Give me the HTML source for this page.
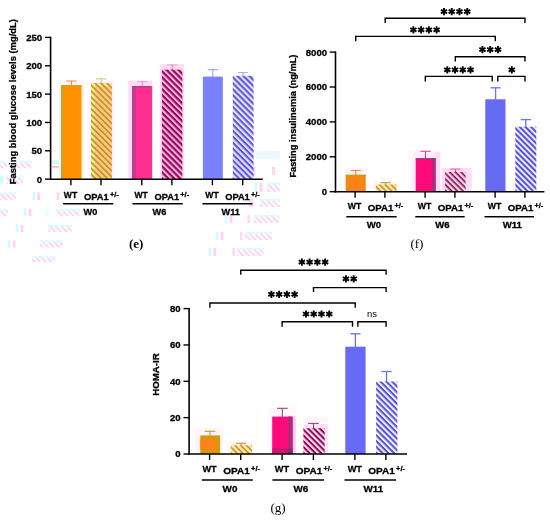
<!DOCTYPE html>
<html><head><meta charset="utf-8"><title>Figure</title>
<style>html,body{margin:0;padding:0;background:#fff;}svg{display:block;}</style></head>
<body>
<svg width="550" height="521" viewBox="0 0 550 521">
<rect width="550" height="521" fill="#fff"/>
<g opacity="0.999">
<defs>
<pattern id="h1" width="4.0" height="4.0" patternUnits="userSpaceOnUse" patternTransform="translate(0.00,0.00) rotate(45) translate(0,0.00)"><rect x="0" y="0.00" width="4.0" height="1.72" fill="#FFC6EC"/><rect x="0" y="1.70" width="4.0" height="2.32" fill="#FFFFFF"/></pattern>
<pattern id="h2" width="4.2" height="4.2" patternUnits="userSpaceOnUse" patternTransform="translate(91.00,83.10) rotate(45) translate(0,0.45)"><rect x="0" y="0.00" width="4.2" height="1.96" fill="#CC8E1C"/><rect x="0" y="1.94" width="4.2" height="2.28" fill="#FFC684"/></pattern>
<pattern id="h3" width="4.2" height="4.2" patternUnits="userSpaceOnUse" patternTransform="translate(91.00,83.10) rotate(45) translate(0,0.45)"><rect x="0" y="0.00" width="4.2" height="1.96" fill="#B49C28"/><rect x="0" y="1.94" width="4.2" height="2.28" fill="#FFEA90"/></pattern>
<pattern id="h4" width="4.2" height="4.2" patternUnits="userSpaceOnUse" patternTransform="translate(161.90,69.60) rotate(45) translate(0,0.00)"><rect x="0" y="0.00" width="4.2" height="1.70" fill="#7E1450"/><rect x="0" y="1.68" width="4.2" height="1.18" fill="#FF2C94"/><rect x="0" y="2.84" width="4.2" height="1.39" fill="#FFC0E8"/></pattern>
<pattern id="h5" width="4.2" height="4.2" patternUnits="userSpaceOnUse" patternTransform="translate(232.80,75.80) rotate(45) translate(0,0.00)"><rect x="0" y="0.00" width="4.2" height="2.28" fill="#5C56DC"/><rect x="0" y="2.26" width="4.2" height="1.96" fill="#E8E2FF"/></pattern>
<pattern id="h6" width="4.0" height="4.0" patternUnits="userSpaceOnUse" patternTransform="translate(375.80,184.50) rotate(45) translate(0,0.45)"><rect x="0" y="0.00" width="4.0" height="1.92" fill="#D4921E"/><rect x="0" y="1.90" width="4.0" height="2.12" fill="#FFEEBC"/></pattern>
<pattern id="h7" width="4.0" height="4.0" patternUnits="userSpaceOnUse" patternTransform="translate(375.80,184.50) rotate(45) translate(0,0.45)"><rect x="0" y="0.00" width="4.0" height="1.87" fill="#B49C28"/><rect x="0" y="1.85" width="4.0" height="2.17" fill="#FFEA90"/></pattern>
<pattern id="h8" width="4.0" height="4.0" patternUnits="userSpaceOnUse" patternTransform="translate(445.10,171.90) rotate(45) translate(0,0.00)"><rect x="0" y="0.00" width="4.0" height="1.72" fill="#7A1248"/><rect x="0" y="1.70" width="4.0" height="0.67" fill="#FF4AA2"/><rect x="0" y="2.35" width="4.0" height="1.67" fill="#FFDDF4"/></pattern>
<pattern id="h9" width="4.0" height="4.0" patternUnits="userSpaceOnUse" patternTransform="translate(515.30,126.70) rotate(45) translate(0,0.00)"><rect x="0" y="0.00" width="4.0" height="2.17" fill="#5552DC"/><rect x="0" y="2.15" width="4.0" height="1.87" fill="#EEE9FF"/></pattern>
<pattern id="h10" width="4.1" height="4.1" patternUnits="userSpaceOnUse" patternTransform="translate(230.80,445.20) rotate(45) translate(0,0.45)"><rect x="0" y="0.00" width="4.1" height="1.97" fill="#D4921E"/><rect x="0" y="1.95" width="4.1" height="2.17" fill="#FFEEBC"/></pattern>
<pattern id="h11" width="4.1" height="4.1" patternUnits="userSpaceOnUse" patternTransform="translate(230.80,445.20) rotate(45) translate(0,0.45)"><rect x="0" y="0.00" width="4.1" height="1.92" fill="#B49C28"/><rect x="0" y="1.90" width="4.1" height="2.22" fill="#FFEA90"/></pattern>
<pattern id="h12" width="4.1" height="4.1" patternUnits="userSpaceOnUse" patternTransform="translate(303.40,428.20) rotate(45) translate(0,0.00)"><rect x="0" y="0.00" width="4.1" height="1.76" fill="#7A1248"/><rect x="0" y="1.74" width="4.1" height="0.69" fill="#FF4AA2"/><rect x="0" y="2.41" width="4.1" height="1.71" fill="#FFDDF4"/></pattern>
<pattern id="h13" width="4.1" height="4.1" patternUnits="userSpaceOnUse" patternTransform="translate(376.10,381.50) rotate(45) translate(0,0.00)"><rect x="0" y="0.00" width="4.1" height="2.22" fill="#5550DC"/><rect x="0" y="2.20" width="4.1" height="1.92" fill="#F3F0FF"/></pattern>
</defs>
<rect x="0.00" y="161.00" width="7.00" height="7.40" fill="url(#h1)" />
<rect x="0.00" y="161.00" width="7.00" height="2.20" fill="#D8FFFF" opacity="0.8"/>
<rect x="14.50" y="161.00" width="16.80" height="7.40" fill="url(#h1)" />
<rect x="14.50" y="161.00" width="16.80" height="2.20" fill="#D8FFFF" opacity="0.8"/>
<rect x="51.60" y="160.40" width="9.40" height="3.60" fill="#D4FFF6" />
<line x1="52.40" y1="166.90" x2="61.00" y2="166.90" stroke="#FF7FA0" stroke-width="1.0"/>
<rect x="0.00" y="175.60" width="3.00" height="8.00" fill="#C8FFFF" />
<rect x="6.50" y="175.60" width="16.80" height="8.00" fill="url(#h1)" />
<rect x="6.50" y="175.60" width="16.80" height="2.20" fill="#D8FFFF" opacity="0.8"/>
<rect x="0.00" y="192.40" width="16.00" height="7.60" fill="url(#h1)" />
<rect x="0.00" y="192.40" width="16.00" height="2.20" fill="#D8FFFF" opacity="0.8"/>
<rect x="32.50" y="192.40" width="2.60" height="7.60" fill="#C8FFFF" />
<rect x="35.10" y="192.40" width="2.00" height="7.60" fill="#FFFFFF" />
<rect x="37.10" y="192.40" width="2.80" height="7.60" fill="#FFD2F2" />
<rect x="56.50" y="192.40" width="3.00" height="7.60" fill="#FFD8F4" />
<rect x="0.00" y="209.00" width="8.00" height="7.00" fill="url(#h1)" />
<rect x="0.00" y="209.00" width="8.00" height="2.20" fill="#D8FFFF" opacity="0.8"/>
<rect x="24.00" y="209.00" width="2.60" height="7.00" fill="#C8FFFF" />
<rect x="26.60" y="209.00" width="2.00" height="7.00" fill="#FFFFFF" />
<rect x="28.60" y="209.00" width="2.80" height="7.00" fill="#FFD2F2" />
<rect x="45.00" y="209.00" width="4.50" height="7.00" fill="#E4FFFF" />
<rect x="56.50" y="209.00" width="23.00" height="7.00" fill="url(#h1)" />
<rect x="56.50" y="209.00" width="23.00" height="2.20" fill="#D8FFFF" opacity="0.8"/>
<rect x="16.00" y="225.00" width="2.60" height="7.00" fill="#C8FFFF" />
<rect x="18.60" y="225.00" width="2.00" height="7.00" fill="#FFFFFF" />
<rect x="20.60" y="225.00" width="2.80" height="7.00" fill="#FFD2F2" />
<rect x="48.00" y="225.00" width="23.50" height="7.00" fill="url(#h1)" />
<rect x="48.00" y="225.00" width="23.50" height="2.20" fill="#D8FFFF" opacity="0.8"/>
<rect x="8.00" y="240.50" width="2.60" height="7.00" fill="#C8FFFF" />
<rect x="10.60" y="240.50" width="2.00" height="7.00" fill="#FFFFFF" />
<rect x="12.60" y="240.50" width="2.80" height="7.00" fill="#FFD2F2" />
<rect x="40.00" y="240.50" width="23.00" height="7.00" fill="url(#h1)" />
<rect x="40.00" y="240.50" width="23.00" height="2.20" fill="#D8FFFF" opacity="0.8"/>
<rect x="32.00" y="256.00" width="23.00" height="6.00" fill="url(#h1)" />
<rect x="32.00" y="256.00" width="23.00" height="2.20" fill="#D8FFFF" opacity="0.8"/>
<rect x="256.00" y="151.00" width="24.00" height="8.00" fill="#ECF7FF" />
<rect x="248.00" y="167.00" width="2.60" height="8.00" fill="#C8FFFF" />
<rect x="250.60" y="167.00" width="2.00" height="8.00" fill="#FFFFFF" />
<rect x="252.60" y="167.00" width="2.80" height="8.00" fill="#FFD2F2" />
<rect x="272.00" y="167.00" width="3.00" height="8.00" fill="#FFD8F4" />
<rect x="255.00" y="183.00" width="2.60" height="9.00" fill="#C8FFFF" />
<rect x="257.60" y="183.00" width="2.00" height="9.00" fill="#FFFFFF" />
<rect x="259.60" y="183.00" width="2.80" height="9.00" fill="#FFD2F2" />
<rect x="267.00" y="183.00" width="13.00" height="9.00" fill="url(#h1)" />
<rect x="267.00" y="183.00" width="13.00" height="2.20" fill="#D8FFFF" opacity="0.8"/>
<rect x="248.60" y="199.00" width="5.00" height="8.00" fill="#FFD8F4" />
<rect x="260.00" y="199.00" width="20.00" height="8.00" fill="url(#h1)" />
<rect x="260.00" y="199.00" width="20.00" height="2.20" fill="#D8FFFF" opacity="0.8"/>
<rect x="225.00" y="215.00" width="2.60" height="8.00" fill="#C8FFFF" />
<rect x="227.60" y="215.00" width="2.00" height="8.00" fill="#FFFFFF" />
<rect x="229.60" y="215.00" width="2.80" height="8.00" fill="#FFD2F2" />
<rect x="247.50" y="215.00" width="2.50" height="8.00" fill="#FFD8F4" />
<rect x="253.60" y="215.00" width="24.90" height="8.00" fill="url(#h1)" />
<rect x="253.60" y="215.00" width="24.90" height="2.20" fill="#D8FFFF" opacity="0.8"/>
<rect x="216.00" y="232.00" width="2.60" height="8.00" fill="#C8FFFF" />
<rect x="218.60" y="232.00" width="2.00" height="8.00" fill="#FFFFFF" />
<rect x="220.60" y="232.00" width="2.80" height="8.00" fill="#FFD2F2" />
<rect x="240.00" y="232.00" width="2.50" height="8.00" fill="#FFD8F4" />
<rect x="245.00" y="232.00" width="27.00" height="8.00" fill="url(#h1)" />
<rect x="245.00" y="232.00" width="27.00" height="2.20" fill="#D8FFFF" opacity="0.8"/>
<rect x="208.70" y="248.00" width="2.60" height="8.00" fill="#C8FFFF" />
<rect x="211.30" y="248.00" width="2.00" height="8.00" fill="#FFFFFF" />
<rect x="213.30" y="248.00" width="2.80" height="8.00" fill="#FFD2F2" />
<rect x="232.40" y="248.00" width="2.60" height="8.00" fill="#FFD8F4" />
<rect x="237.40" y="248.00" width="26.20" height="8.00" fill="url(#h1)" />
<rect x="237.40" y="248.00" width="26.20" height="2.20" fill="#D8FFFF" opacity="0.8"/>
<line x1="50.60" y1="36.70" x2="50.60" y2="179.90" stroke="#000" stroke-width="1.6"/>
<line x1="45.00" y1="179.15" x2="50.60" y2="179.15" stroke="#000" stroke-width="1.4"/>
<text x="42.20" y="182.60" font-family="Liberation Sans, sans-serif" font-weight="bold" stroke="#000" stroke-width="0.3" font-size="9.6" text-anchor="end" >0</text>
<line x1="45.00" y1="150.80" x2="50.60" y2="150.80" stroke="#000" stroke-width="1.4"/>
<text x="42.20" y="154.25" font-family="Liberation Sans, sans-serif" font-weight="bold" stroke="#000" stroke-width="0.3" font-size="9.6" text-anchor="end" >50</text>
<line x1="45.00" y1="122.45" x2="50.60" y2="122.45" stroke="#000" stroke-width="1.4"/>
<text x="42.20" y="125.90" font-family="Liberation Sans, sans-serif" font-weight="bold" stroke="#000" stroke-width="0.3" font-size="9.6" text-anchor="end" >100</text>
<line x1="45.00" y1="94.10" x2="50.60" y2="94.10" stroke="#000" stroke-width="1.4"/>
<text x="42.20" y="97.55" font-family="Liberation Sans, sans-serif" font-weight="bold" stroke="#000" stroke-width="0.3" font-size="9.6" text-anchor="end" >150</text>
<line x1="45.00" y1="65.75" x2="50.60" y2="65.75" stroke="#000" stroke-width="1.4"/>
<text x="42.20" y="69.20" font-family="Liberation Sans, sans-serif" font-weight="bold" stroke="#000" stroke-width="0.3" font-size="9.6" text-anchor="end" >200</text>
<line x1="45.00" y1="37.40" x2="50.60" y2="37.40" stroke="#000" stroke-width="1.4"/>
<text x="42.20" y="40.85" font-family="Liberation Sans, sans-serif" font-weight="bold" stroke="#000" stroke-width="0.3" font-size="9.6" text-anchor="end" >250</text>
<text transform="translate(16.2,184.2) rotate(-90)" font-family="Liberation Sans, sans-serif" font-weight="bold" stroke="#000" stroke-width="0.3" font-size="9.4" textLength="165.00" lengthAdjust="spacingAndGlyphs">Fasting blood glucose levels (mg/dL)</text>
<rect x="58.80" y="80.60" width="25.00" height="98.55" fill="#FFF5FA" />
<line x1="71.40" y1="81.00" x2="71.40" y2="85.70" stroke="#FF8A50" stroke-width="1.1"/>
<line x1="66.30" y1="81.00" x2="76.50" y2="81.00" stroke="#FF8A50" stroke-width="1.1"/>
<rect x="61.10" y="85.20" width="20.60" height="93.95" fill="#FF9300" />
<rect x="61.10" y="85.20" width="2.30" height="93.95" fill="#C8A526" />
<rect x="61.10" y="85.20" width="20.60" height="1.10" fill="#C8A526" />
<rect x="81.70" y="85.20" width="1.30" height="93.95" fill="#FFF3B8" />
<rect x="89.20" y="80.00" width="24.80" height="99.15" fill="#FFF5FA" />
<line x1="101.20" y1="78.90" x2="101.20" y2="83.60" stroke="#FFB890" stroke-width="1.1"/>
<line x1="96.10" y1="78.90" x2="106.30" y2="78.90" stroke="#C4CC7C" stroke-width="1.1"/>
<rect x="91.00" y="83.10" width="20.90" height="96.05" fill="url(#h2)" />
<rect x="91.00" y="83.10" width="4.00" height="96.05" fill="url(#h3)" />
<rect x="91.00" y="83.10" width="20.90" height="3.30" fill="url(#h3)" />
<rect x="128.20" y="80.60" width="24.00" height="98.55" fill="#FFDDF4" />
<line x1="142.20" y1="81.60" x2="142.20" y2="86.70" stroke="#EC6C9C" stroke-width="0.9"/>
<line x1="137.10" y1="81.60" x2="147.30" y2="81.60" stroke="#FF94BC" stroke-width="0.9"/>
<rect x="132.00" y="86.20" width="20.20" height="92.95" fill="#FF2F92" />
<rect x="132.00" y="86.20" width="3.60" height="92.95" fill="#C23C90" />
<rect x="132.00" y="86.20" width="20.20" height="1.00" fill="#8A4C7C" />
<rect x="159.80" y="64.20" width="24.20" height="114.95" fill="#FFDDF4" />
<line x1="172.20" y1="64.90" x2="172.20" y2="70.30" stroke="#EC6C9C" stroke-width="0.9"/>
<line x1="167.10" y1="64.90" x2="177.30" y2="64.90" stroke="#FF8CB4" stroke-width="0.9"/>
<rect x="161.90" y="69.60" width="20.50" height="109.55" fill="url(#h4)" />
<line x1="212.90" y1="69.70" x2="212.90" y2="77.10" stroke="#9297FF" stroke-width="1.0"/>
<line x1="207.80" y1="69.70" x2="218.00" y2="69.70" stroke="#9297FF" stroke-width="1.0"/>
<rect x="202.90" y="76.60" width="19.90" height="102.55" fill="#7A81FF" />
<line x1="243.00" y1="72.60" x2="243.00" y2="76.30" stroke="#A4A8FF" stroke-width="1.0"/>
<line x1="238.10" y1="72.60" x2="247.90" y2="72.60" stroke="#A4A8FF" stroke-width="1.0"/>
<rect x="232.80" y="75.80" width="20.80" height="103.35" fill="url(#h5)" />
<line x1="49.80" y1="179.15" x2="262.80" y2="179.15" stroke="#000" stroke-width="1.5"/>
<line x1="70.90" y1="179.15" x2="70.90" y2="185.15" stroke="#000" stroke-width="1.4"/>
<line x1="101.00" y1="179.15" x2="101.00" y2="185.15" stroke="#000" stroke-width="1.4"/>
<line x1="141.80" y1="179.15" x2="141.80" y2="185.15" stroke="#000" stroke-width="1.4"/>
<line x1="171.90" y1="179.15" x2="171.90" y2="185.15" stroke="#000" stroke-width="1.4"/>
<line x1="212.40" y1="179.15" x2="212.40" y2="185.15" stroke="#000" stroke-width="1.4"/>
<line x1="242.70" y1="179.15" x2="242.70" y2="185.15" stroke="#000" stroke-width="1.4"/>
<text x="70.55" y="197.55" font-family="Liberation Sans, sans-serif" font-weight="bold" stroke="#000" stroke-width="0.3" font-size="9.2" text-anchor="middle" textLength="13.4" lengthAdjust="spacingAndGlyphs">WT</text>
<text x="84.10" y="199.55" font-family="Liberation Sans, sans-serif" font-weight="bold" stroke="#000" stroke-width="0.3" font-size="9.2"><tspan textLength="24.6" lengthAdjust="spacingAndGlyphs">OPA1</tspan><tspan dy="-2.9" dx="1.2" font-size="7.4">+/-</tspan></text>
<line x1="63.10" y1="203.75" x2="113.30" y2="203.75" stroke="#000" stroke-width="1.5"/>
<text x="90.50" y="215.45" font-family="Liberation Sans, sans-serif" font-weight="bold" stroke="#000" stroke-width="0.3" font-size="9.2" text-anchor="middle" >W0</text>
<text x="141.10" y="197.55" font-family="Liberation Sans, sans-serif" font-weight="bold" stroke="#000" stroke-width="0.3" font-size="9.2" text-anchor="middle" textLength="13.4" lengthAdjust="spacingAndGlyphs">WT</text>
<text x="154.50" y="199.55" font-family="Liberation Sans, sans-serif" font-weight="bold" stroke="#000" stroke-width="0.3" font-size="9.2"><tspan textLength="24.6" lengthAdjust="spacingAndGlyphs">OPA1</tspan><tspan dy="-2.9" dx="1.2" font-size="7.4">+/-</tspan></text>
<line x1="132.40" y1="203.75" x2="182.80" y2="203.75" stroke="#000" stroke-width="1.5"/>
<text x="159.50" y="215.45" font-family="Liberation Sans, sans-serif" font-weight="bold" stroke="#000" stroke-width="0.3" font-size="9.2" text-anchor="middle" >W6</text>
<text x="212.00" y="197.55" font-family="Liberation Sans, sans-serif" font-weight="bold" stroke="#000" stroke-width="0.3" font-size="9.2" text-anchor="middle" textLength="13.4" lengthAdjust="spacingAndGlyphs">WT</text>
<text x="225.20" y="199.55" font-family="Liberation Sans, sans-serif" font-weight="bold" stroke="#000" stroke-width="0.3" font-size="9.2"><tspan textLength="24.6" lengthAdjust="spacingAndGlyphs">OPA1</tspan><tspan dy="-2.9" dx="1.2" font-size="7.4">+/-</tspan></text>
<line x1="202.40" y1="203.75" x2="252.50" y2="203.75" stroke="#000" stroke-width="1.5"/>
<text x="230.70" y="215.45" font-family="Liberation Sans, sans-serif" font-weight="bold" stroke="#000" stroke-width="0.3" font-size="9.2" text-anchor="middle" >W11</text>
<text x="136.2" y="247.8" style="font-family:'Liberation Serif',serif" font-weight="bold" font-size="13" text-anchor="middle">(e)</text>
<line x1="335.50" y1="51.40" x2="335.50" y2="192.45" stroke="#000" stroke-width="1.6"/>
<line x1="329.70" y1="191.70" x2="335.50" y2="191.70" stroke="#000" stroke-width="1.4"/>
<text x="327.10" y="195.15" font-family="Liberation Sans, sans-serif" font-weight="bold" stroke="#000" stroke-width="0.3" font-size="9.6" text-anchor="end" >0</text>
<line x1="329.70" y1="156.80" x2="335.50" y2="156.80" stroke="#000" stroke-width="1.4"/>
<text x="327.10" y="160.25" font-family="Liberation Sans, sans-serif" font-weight="bold" stroke="#000" stroke-width="0.3" font-size="9.6" text-anchor="end" >2000</text>
<line x1="329.70" y1="121.90" x2="335.50" y2="121.90" stroke="#000" stroke-width="1.4"/>
<text x="327.10" y="125.35" font-family="Liberation Sans, sans-serif" font-weight="bold" stroke="#000" stroke-width="0.3" font-size="9.6" text-anchor="end" >4000</text>
<line x1="329.70" y1="87.00" x2="335.50" y2="87.00" stroke="#000" stroke-width="1.4"/>
<text x="327.10" y="90.45" font-family="Liberation Sans, sans-serif" font-weight="bold" stroke="#000" stroke-width="0.3" font-size="9.6" text-anchor="end" >6000</text>
<line x1="329.70" y1="52.10" x2="335.50" y2="52.10" stroke="#000" stroke-width="1.4"/>
<text x="327.10" y="55.55" font-family="Liberation Sans, sans-serif" font-weight="bold" stroke="#000" stroke-width="0.3" font-size="9.6" text-anchor="end" >8000</text>
<text transform="translate(296.1,177.6) rotate(-90)" font-family="Liberation Sans, sans-serif" font-weight="bold" stroke="#000" stroke-width="0.3" font-size="9.1" textLength="123.00" lengthAdjust="spacingAndGlyphs">Fasting insulinemia (ng/mL)</text>
<rect x="344.60" y="167.70" width="22.90" height="24.00" fill="#FFF5FA" />
<line x1="355.80" y1="170.50" x2="355.80" y2="175.30" stroke="#FF8A40" stroke-width="1.2"/>
<line x1="350.70" y1="170.50" x2="360.90" y2="170.50" stroke="#FF8A40" stroke-width="1.2"/>
<rect x="345.70" y="174.80" width="20.00" height="16.90" fill="#EC8C0E" />
<rect x="349.50" y="177.00" width="12.50" height="14.70" fill="#FF8218" />
<rect x="345.70" y="174.80" width="20.00" height="1.10" fill="#B0A228" />
<rect x="373.80" y="181.50" width="24.60" height="10.20" fill="#FFF5FA" />
<line x1="385.60" y1="182.60" x2="385.60" y2="185.00" stroke="#B8A840" stroke-width="1.2"/>
<line x1="380.50" y1="182.60" x2="390.70" y2="182.60" stroke="#B8A840" stroke-width="1.2"/>
<rect x="375.80" y="184.50" width="20.50" height="7.20" fill="url(#h6)" />
<rect x="393.20" y="184.50" width="3.10" height="7.20" fill="url(#h7)" />
<rect x="408.00" y="150.00" width="33.00" height="41.70" fill="#FFF8FD" />
<rect x="413.50" y="152.00" width="21.50" height="39.70" fill="#FFEEF9" />
<rect x="435.00" y="152.00" width="5.20" height="39.70" fill="#FFDDF4" />
<line x1="425.50" y1="151.30" x2="425.50" y2="158.80" stroke="#D83884" stroke-width="1.1"/>
<line x1="420.40" y1="151.30" x2="430.60" y2="151.30" stroke="#D0508C" stroke-width="1.1"/>
<rect x="415.70" y="158.30" width="19.90" height="33.40" fill="#FF0A7A" />
<rect x="432.10" y="158.30" width="3.50" height="33.40" fill="#A8307A" />
<rect x="415.70" y="158.30" width="19.90" height="1.10" fill="#8A3C74" />
<rect x="442.00" y="168.00" width="29.80" height="23.70" fill="#FFDDF4" />
<line x1="455.40" y1="169.10" x2="455.40" y2="172.40" stroke="#F04088" stroke-width="1.1"/>
<line x1="450.30" y1="169.10" x2="460.50" y2="169.10" stroke="#FF5C9C" stroke-width="1.1"/>
<rect x="445.10" y="171.90" width="20.50" height="19.80" fill="url(#h8)" />
<line x1="495.60" y1="87.80" x2="495.60" y2="99.80" stroke="#6C70F6" stroke-width="1.3"/>
<line x1="490.50" y1="87.80" x2="500.70" y2="87.80" stroke="#6C70F6" stroke-width="1.3"/>
<rect x="485.30" y="99.30" width="20.20" height="92.40" fill="#666AF4" />
<line x1="525.80" y1="119.60" x2="525.80" y2="127.20" stroke="#6C70F6" stroke-width="1.3"/>
<line x1="520.70" y1="119.60" x2="530.90" y2="119.60" stroke="#6C70F6" stroke-width="1.3"/>
<rect x="515.30" y="126.70" width="21.00" height="65.00" fill="url(#h9)" />
<line x1="334.70" y1="191.70" x2="544.40" y2="191.70" stroke="#000" stroke-width="1.5"/>
<line x1="355.10" y1="191.70" x2="355.10" y2="197.70" stroke="#000" stroke-width="1.4"/>
<line x1="384.90" y1="191.70" x2="384.90" y2="197.70" stroke="#000" stroke-width="1.4"/>
<line x1="425.10" y1="191.70" x2="425.10" y2="197.70" stroke="#000" stroke-width="1.4"/>
<line x1="454.90" y1="191.70" x2="454.90" y2="197.70" stroke="#000" stroke-width="1.4"/>
<line x1="495.10" y1="191.70" x2="495.10" y2="197.70" stroke="#000" stroke-width="1.4"/>
<line x1="524.90" y1="191.70" x2="524.90" y2="197.70" stroke="#000" stroke-width="1.4"/>
<text x="354.50" y="209.20" font-family="Liberation Sans, sans-serif" font-weight="bold" stroke="#000" stroke-width="0.3" font-size="9.6" text-anchor="middle" textLength="13.6" lengthAdjust="spacingAndGlyphs">WT</text>
<text x="367.70" y="211.30" font-family="Liberation Sans, sans-serif" font-weight="bold" stroke="#000" stroke-width="0.3" font-size="9.6"><tspan textLength="25.6" lengthAdjust="spacingAndGlyphs">OPA1</tspan><tspan dy="-2.9" dx="1.2" font-size="7.4">+/-</tspan></text>
<line x1="346.30" y1="216.80" x2="396.60" y2="216.80" stroke="#000" stroke-width="1.5"/>
<text x="374.00" y="228.00" font-family="Liberation Sans, sans-serif" font-weight="bold" stroke="#000" stroke-width="0.3" font-size="9.6" text-anchor="middle" >W0</text>
<text x="424.50" y="209.20" font-family="Liberation Sans, sans-serif" font-weight="bold" stroke="#000" stroke-width="0.3" font-size="9.6" text-anchor="middle" textLength="13.6" lengthAdjust="spacingAndGlyphs">WT</text>
<text x="437.70" y="211.30" font-family="Liberation Sans, sans-serif" font-weight="bold" stroke="#000" stroke-width="0.3" font-size="9.6"><tspan textLength="25.6" lengthAdjust="spacingAndGlyphs">OPA1</tspan><tspan dy="-2.9" dx="1.2" font-size="7.4">+/-</tspan></text>
<line x1="415.30" y1="216.80" x2="464.70" y2="216.80" stroke="#000" stroke-width="1.5"/>
<text x="442.50" y="228.00" font-family="Liberation Sans, sans-serif" font-weight="bold" stroke="#000" stroke-width="0.3" font-size="9.6" text-anchor="middle" >W6</text>
<text x="494.50" y="209.20" font-family="Liberation Sans, sans-serif" font-weight="bold" stroke="#000" stroke-width="0.3" font-size="9.6" text-anchor="middle" textLength="13.6" lengthAdjust="spacingAndGlyphs">WT</text>
<text x="507.70" y="211.30" font-family="Liberation Sans, sans-serif" font-weight="bold" stroke="#000" stroke-width="0.3" font-size="9.6"><tspan textLength="25.6" lengthAdjust="spacingAndGlyphs">OPA1</tspan><tspan dy="-2.9" dx="1.2" font-size="7.4">+/-</tspan></text>
<line x1="484.50" y1="216.80" x2="534.00" y2="216.80" stroke="#000" stroke-width="1.5"/>
<text x="512.30" y="228.00" font-family="Liberation Sans, sans-serif" font-weight="bold" stroke="#000" stroke-width="0.3" font-size="9.6" text-anchor="middle" >W11</text>
<text x="416.9" y="247.5" style="font-family:'Liberation Serif',serif" font-size="13" text-anchor="middle">(f)</text>
<path d="M385.20 23.10 V18.30 H525.00 V23.10" fill="none" stroke="#000" stroke-width="1.4"/>
<path d="M443.98 8.00L443.98 15.20M440.86 9.80L447.09 13.40M447.09 9.80L440.86 13.40" stroke="#000" stroke-width="1.9" fill="none"/>
<path d="M451.73 8.00L451.73 15.20M448.61 9.80L454.84 13.40M454.84 9.80L448.61 13.40" stroke="#000" stroke-width="1.9" fill="none"/>
<path d="M459.48 8.00L459.48 15.20M456.36 9.80L462.59 13.40M462.59 9.80L456.36 13.40" stroke="#000" stroke-width="1.9" fill="none"/>
<path d="M467.23 8.00L467.23 15.20M464.11 9.80L470.34 13.40M470.34 9.80L464.11 13.40" stroke="#000" stroke-width="1.9" fill="none"/>
<path d="M355.70 41.20 V36.40 H495.30 V41.20" fill="none" stroke="#000" stroke-width="1.4"/>
<path d="M413.38 26.20L413.38 33.40M410.26 28.00L416.49 31.60M416.49 28.00L410.26 31.60" stroke="#000" stroke-width="1.9" fill="none"/>
<path d="M421.12 26.20L421.12 33.40M418.01 28.00L424.24 31.60M424.24 28.00L418.01 31.60" stroke="#000" stroke-width="1.9" fill="none"/>
<path d="M428.88 26.20L428.88 33.40M425.76 28.00L431.99 31.60M431.99 28.00L425.76 31.60" stroke="#000" stroke-width="1.9" fill="none"/>
<path d="M436.62 26.20L436.62 33.40M433.51 28.00L439.74 31.60M439.74 28.00L433.51 31.60" stroke="#000" stroke-width="1.9" fill="none"/>
<path d="M455.30 61.60 V56.80 H525.00 V61.60" fill="none" stroke="#000" stroke-width="1.4"/>
<path d="M482.45 46.00L482.45 53.20M479.33 47.80L485.57 51.40M485.57 47.80L479.33 51.40" stroke="#000" stroke-width="1.9" fill="none"/>
<path d="M490.20 46.00L490.20 53.20M487.08 47.80L493.32 51.40M493.32 47.80L487.08 51.40" stroke="#000" stroke-width="1.9" fill="none"/>
<path d="M497.95 46.00L497.95 53.20M494.83 47.80L501.07 51.40M501.07 47.80L494.83 51.40" stroke="#000" stroke-width="1.9" fill="none"/>
<path d="M425.30 81.40 V76.40 H492.20 V81.40" fill="none" stroke="#000" stroke-width="1.4"/>
<path d="M447.27 66.20L447.27 73.40M444.16 68.00L450.39 71.60M450.39 68.00L444.16 71.60" stroke="#000" stroke-width="1.9" fill="none"/>
<path d="M455.02 66.20L455.02 73.40M451.91 68.00L458.14 71.60M458.14 68.00L451.91 71.60" stroke="#000" stroke-width="1.9" fill="none"/>
<path d="M462.77 66.20L462.77 73.40M459.66 68.00L465.89 71.60M465.89 68.00L459.66 71.60" stroke="#000" stroke-width="1.9" fill="none"/>
<path d="M470.52 66.20L470.52 73.40M467.41 68.00L473.64 71.60M473.64 68.00L467.41 71.60" stroke="#000" stroke-width="1.9" fill="none"/>
<path d="M497.80 81.40 V76.40 H525.00 V81.40" fill="none" stroke="#000" stroke-width="1.4"/>
<path d="M511.80 66.20L511.80 73.40M508.68 68.00L514.92 71.60M514.92 68.00L508.68 71.60" stroke="#000" stroke-width="1.9" fill="none"/>
<line x1="189.10" y1="307.90" x2="189.10" y2="454.75" stroke="#000" stroke-width="1.6"/>
<line x1="183.50" y1="454.00" x2="189.10" y2="454.00" stroke="#000" stroke-width="1.4"/>
<text x="180.70" y="457.45" font-family="Liberation Sans, sans-serif" font-weight="bold" stroke="#000" stroke-width="0.3" font-size="9.6" text-anchor="end" >0</text>
<line x1="183.50" y1="417.65" x2="189.10" y2="417.65" stroke="#000" stroke-width="1.4"/>
<text x="180.70" y="421.10" font-family="Liberation Sans, sans-serif" font-weight="bold" stroke="#000" stroke-width="0.3" font-size="9.6" text-anchor="end" >20</text>
<line x1="183.50" y1="381.30" x2="189.10" y2="381.30" stroke="#000" stroke-width="1.4"/>
<text x="180.70" y="384.75" font-family="Liberation Sans, sans-serif" font-weight="bold" stroke="#000" stroke-width="0.3" font-size="9.6" text-anchor="end" >40</text>
<line x1="183.50" y1="344.95" x2="189.10" y2="344.95" stroke="#000" stroke-width="1.4"/>
<text x="180.70" y="348.40" font-family="Liberation Sans, sans-serif" font-weight="bold" stroke="#000" stroke-width="0.3" font-size="9.6" text-anchor="end" >60</text>
<line x1="183.50" y1="308.60" x2="189.10" y2="308.60" stroke="#000" stroke-width="1.4"/>
<text x="180.70" y="312.05" font-family="Liberation Sans, sans-serif" font-weight="bold" stroke="#000" stroke-width="0.3" font-size="9.6" text-anchor="end" >80</text>
<text transform="translate(158.6,395.8) rotate(-90)" font-family="Liberation Sans, sans-serif" font-weight="bold" stroke="#000" stroke-width="0.3" font-size="9.6" textLength="42.60" lengthAdjust="spacingAndGlyphs">HOMA-IR</text>
<rect x="195.00" y="428.00" width="28.00" height="26.00" fill="#FFF5FA" />
<line x1="210.00" y1="431.30" x2="210.00" y2="435.90" stroke="#FF8A40" stroke-width="1.2"/>
<line x1="204.60" y1="431.30" x2="215.40" y2="431.30" stroke="#B8A838" stroke-width="1.2"/>
<rect x="200.30" y="435.40" width="19.80" height="18.60" fill="#D6980E" />
<rect x="200.30" y="439.60" width="15.90" height="9.80" fill="#FF8218" />
<rect x="228.60" y="441.50" width="25.40" height="12.50" fill="#FFF5FA" />
<line x1="241.00" y1="443.30" x2="241.00" y2="445.70" stroke="#C8A040" stroke-width="1.2"/>
<line x1="235.90" y1="443.30" x2="246.10" y2="443.30" stroke="#C8A040" stroke-width="1.2"/>
<rect x="230.80" y="445.20" width="21.00" height="8.80" fill="url(#h10)" />
<rect x="248.60" y="445.20" width="3.20" height="8.80" fill="url(#h11)" />
<rect x="268.50" y="407.50" width="28.00" height="46.50" fill="#FFF6FC" />
<rect x="292.60" y="416.60" width="3.20" height="37.40" fill="#FFC8F0" />
<line x1="282.30" y1="408.30" x2="282.30" y2="417.10" stroke="#A03470" stroke-width="1.0"/>
<line x1="277.00" y1="408.30" x2="287.60" y2="408.30" stroke="#8A3C6C" stroke-width="1.0"/>
<rect x="272.20" y="416.60" width="20.40" height="37.40" fill="#FF0A7A" />
<rect x="288.10" y="416.60" width="4.50" height="37.40" fill="#B02A7A" />
<rect x="272.20" y="448.40" width="20.40" height="5.60" fill="#CC1670" />
<rect x="288.10" y="448.40" width="4.50" height="5.60" fill="#8E2A72" />
<rect x="303.40" y="416.50" width="24.80" height="7.70" fill="#FFF4FB" />
<rect x="303.40" y="424.20" width="24.80" height="29.80" fill="#FFE2F6" />
<line x1="313.50" y1="423.40" x2="313.50" y2="428.70" stroke="#A03470" stroke-width="1.0"/>
<line x1="308.20" y1="423.40" x2="318.80" y2="423.40" stroke="#8A3C6C" stroke-width="1.0"/>
<rect x="303.40" y="428.20" width="21.30" height="25.80" fill="url(#h12)" />
<line x1="355.40" y1="333.80" x2="355.40" y2="347.20" stroke="#6C70F6" stroke-width="1.3"/>
<line x1="350.30" y1="333.80" x2="360.50" y2="333.80" stroke="#6C70F6" stroke-width="1.3"/>
<rect x="345.30" y="346.70" width="20.30" height="107.30" fill="#666AF4" />
<line x1="386.50" y1="371.50" x2="386.50" y2="382.20" stroke="#6C70F6" stroke-width="1.3"/>
<line x1="381.40" y1="371.50" x2="391.60" y2="371.50" stroke="#6C70F6" stroke-width="1.3"/>
<rect x="376.10" y="381.50" width="21.30" height="72.50" fill="url(#h13)" />
<line x1="188.30" y1="454.00" x2="407.00" y2="454.00" stroke="#000" stroke-width="1.5"/>
<line x1="209.60" y1="454.00" x2="209.60" y2="460.00" stroke="#000" stroke-width="1.4"/>
<line x1="240.70" y1="454.00" x2="240.70" y2="460.00" stroke="#000" stroke-width="1.4"/>
<line x1="282.10" y1="454.00" x2="282.10" y2="460.00" stroke="#000" stroke-width="1.4"/>
<line x1="313.40" y1="454.00" x2="313.40" y2="460.00" stroke="#000" stroke-width="1.4"/>
<line x1="354.90" y1="454.00" x2="354.90" y2="460.00" stroke="#000" stroke-width="1.4"/>
<line x1="385.90" y1="454.00" x2="385.90" y2="460.00" stroke="#000" stroke-width="1.4"/>
<text x="209.60" y="472.30" font-family="Liberation Sans, sans-serif" font-weight="bold" stroke="#000" stroke-width="0.3" font-size="9.9" text-anchor="middle" textLength="14.3" lengthAdjust="spacingAndGlyphs">WT</text>
<text x="223.30" y="474.20" font-family="Liberation Sans, sans-serif" font-weight="bold" stroke="#000" stroke-width="0.3" font-size="9.9"><tspan textLength="26.6" lengthAdjust="spacingAndGlyphs">OPA1</tspan><tspan dy="-2.9" dx="1.2" font-size="7.4">+/-</tspan></text>
<line x1="201.90" y1="480.10" x2="252.80" y2="480.10" stroke="#000" stroke-width="1.5"/>
<text x="230.00" y="492.20" font-family="Liberation Sans, sans-serif" font-weight="bold" stroke="#000" stroke-width="0.3" font-size="9.9" text-anchor="middle" >W0</text>
<text x="282.00" y="472.30" font-family="Liberation Sans, sans-serif" font-weight="bold" stroke="#000" stroke-width="0.3" font-size="9.9" text-anchor="middle" textLength="14.3" lengthAdjust="spacingAndGlyphs">WT</text>
<text x="295.70" y="474.20" font-family="Liberation Sans, sans-serif" font-weight="bold" stroke="#000" stroke-width="0.3" font-size="9.9"><tspan textLength="26.6" lengthAdjust="spacingAndGlyphs">OPA1</tspan><tspan dy="-2.9" dx="1.2" font-size="7.4">+/-</tspan></text>
<line x1="272.40" y1="480.10" x2="324.00" y2="480.10" stroke="#000" stroke-width="1.5"/>
<text x="300.90" y="492.20" font-family="Liberation Sans, sans-serif" font-weight="bold" stroke="#000" stroke-width="0.3" font-size="9.9" text-anchor="middle" >W6</text>
<text x="354.85" y="472.30" font-family="Liberation Sans, sans-serif" font-weight="bold" stroke="#000" stroke-width="0.3" font-size="9.9" text-anchor="middle" textLength="14.3" lengthAdjust="spacingAndGlyphs">WT</text>
<text x="368.30" y="474.20" font-family="Liberation Sans, sans-serif" font-weight="bold" stroke="#000" stroke-width="0.3" font-size="9.9"><tspan textLength="26.6" lengthAdjust="spacingAndGlyphs">OPA1</tspan><tspan dy="-2.9" dx="1.2" font-size="7.4">+/-</tspan></text>
<line x1="344.50" y1="480.10" x2="396.10" y2="480.10" stroke="#000" stroke-width="1.5"/>
<text x="373.40" y="492.20" font-family="Liberation Sans, sans-serif" font-weight="bold" stroke="#000" stroke-width="0.3" font-size="9.9" text-anchor="middle" >W11</text>
<text x="278.1" y="511.5" style="font-family:'Liberation Serif',serif" font-size="13" text-anchor="middle">(g)</text>
<path d="M240.80 274.70 V270.20 H386.10 V274.70" fill="none" stroke="#000" stroke-width="1.4"/>
<path d="M301.88 258.50L301.88 265.70M298.76 260.30L304.99 263.90M304.99 260.30L298.76 263.90" stroke="#000" stroke-width="1.9" fill="none"/>
<path d="M309.62 258.50L309.62 265.70M306.51 260.30L312.74 263.90M312.74 260.30L306.51 263.90" stroke="#000" stroke-width="1.9" fill="none"/>
<path d="M317.38 258.50L317.38 265.70M314.26 260.30L320.49 263.90M320.49 260.30L314.26 263.90" stroke="#000" stroke-width="1.9" fill="none"/>
<path d="M325.12 258.50L325.12 265.70M322.01 260.30L328.24 263.90M328.24 260.30L322.01 263.90" stroke="#000" stroke-width="1.9" fill="none"/>
<path d="M313.50 292.10 V287.60 H386.10 V292.10" fill="none" stroke="#000" stroke-width="1.4"/>
<path d="M345.93 275.20L345.93 282.40M342.81 277.00L349.04 280.60M349.04 277.00L342.81 280.60" stroke="#000" stroke-width="1.9" fill="none"/>
<path d="M353.68 275.20L353.68 282.40M350.56 277.00L356.79 280.60M356.79 277.00L350.56 280.60" stroke="#000" stroke-width="1.9" fill="none"/>
<path d="M209.90 307.80 V303.00 H355.20 V307.80" fill="none" stroke="#000" stroke-width="1.4"/>
<path d="M271.38 290.70L271.38 297.90M268.26 292.50L274.49 296.10M274.49 292.50L268.26 296.10" stroke="#000" stroke-width="1.9" fill="none"/>
<path d="M279.12 290.70L279.12 297.90M276.01 292.50L282.24 296.10M282.24 292.50L276.01 296.10" stroke="#000" stroke-width="1.9" fill="none"/>
<path d="M286.88 290.70L286.88 297.90M283.76 292.50L289.99 296.10M289.99 292.50L283.76 296.10" stroke="#000" stroke-width="1.9" fill="none"/>
<path d="M294.62 290.70L294.62 297.90M291.51 292.50L297.74 296.10M297.74 292.50L291.51 296.10" stroke="#000" stroke-width="1.9" fill="none"/>
<path d="M282.10 326.80 V321.80 H352.50 V326.80" fill="none" stroke="#000" stroke-width="1.4"/>
<path d="M305.98 310.40L305.98 317.60M302.86 312.20L309.09 315.80M309.09 312.20L302.86 315.80" stroke="#000" stroke-width="1.9" fill="none"/>
<path d="M313.73 310.40L313.73 317.60M310.61 312.20L316.84 315.80M316.84 312.20L310.61 315.80" stroke="#000" stroke-width="1.9" fill="none"/>
<path d="M321.48 310.40L321.48 317.60M318.36 312.20L324.59 315.80M324.59 312.20L318.36 315.80" stroke="#000" stroke-width="1.9" fill="none"/>
<path d="M329.23 310.40L329.23 317.60M326.11 312.20L332.34 315.80M332.34 312.20L326.11 315.80" stroke="#000" stroke-width="1.9" fill="none"/>
<path d="M357.90 326.80 V321.80 H386.10 V326.80" fill="none" stroke="#000" stroke-width="1.4"/>
<text x="372.10" y="316.60" font-family="Liberation Sans, sans-serif"  font-size="9.5" text-anchor="middle" >ns</text>
</g>
</svg>
</body></html>
